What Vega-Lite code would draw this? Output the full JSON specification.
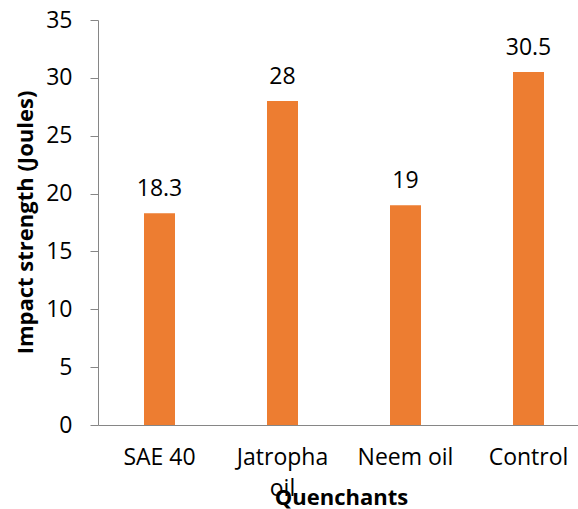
{
  "$schema": "https://vega.github.io/schema/vega-lite/v6.json",
  "autosize": {"type": "none"},
  "width": 480,
  "height": 405,
  "padding": {"left": 98, "top": 20, "right": 0, "bottom": 84},
  "config": {
    "font": "Open Sans",
    "view": {"stroke": null},
    "axis": {
      "labelFont": "Open Sans",
      "titleFont": "Open Sans",
      "labelColor": "#000",
      "titleColor": "#000",
      "domainColor": "#868686",
      "tickColor": "#868686",
      "grid": false
    }
  },
  "data": {
    "values": [
      {"Quenchant": "SAE 40", "Impact": 18.3},
      {"Quenchant": "Jatropha oil", "Impact": 28},
      {"Quenchant": "Neem oil", "Impact": 19},
      {"Quenchant": "Control", "Impact": 30.5}
    ]
  },
  "encoding": {
    "x": {
      "field": "Quenchant",
      "type": "nominal",
      "sort": null,
      "scale": {"range": [0, 492], "paddingInner": 0, "paddingOuter": 0},
      "axis": {
        "title": "Quenchants",
        "titleFontSize": 22,
        "titleFontWeight": "bold",
        "titleX": 243,
        "titleY": 72,
        "titleBaseline": "middle",
        "labelAngle": 0,
        "labelFontSize": 23,
        "labelPadding": 21,
        "labelLineHeight": 31,
        "labelBaseline": "top",
        "labelExpr": "datum.label == 'Jatropha oil' ? ['Jatropha', 'oil'] : datum.label",
        "ticks": false,
        "domainExtent": "full"
      }
    },
    "y": {
      "field": "Impact",
      "type": "quantitative",
      "scale": {"domain": [0, 35], "nice": false},
      "axis": {
        "title": "Impact strength (Joules)",
        "titleFontSize": 22,
        "titleFontWeight": "bold",
        "titleX": -73,
        "titleY": 202,
        "titleAngle": -90,
        "titleBaseline": "middle",
        "titleAlign": "center",
        "values": [0, 5, 10, 15, 20, 25, 30, 35],
        "labelFontSize": 23,
        "labelPadding": 18,
        "tickSize": 8
      }
    }
  },
  "layer": [
    {
      "mark": {"type": "bar", "size": 31, "color": "#ED7D31"}
    },
    {
      "mark": {
        "type": "text",
        "baseline": "bottom",
        "dy": -12,
        "fontSize": 23,
        "color": "#000"
      },
      "encoding": {
        "text": {"field": "Impact", "type": "quantitative"}
      }
    }
  ]
}
